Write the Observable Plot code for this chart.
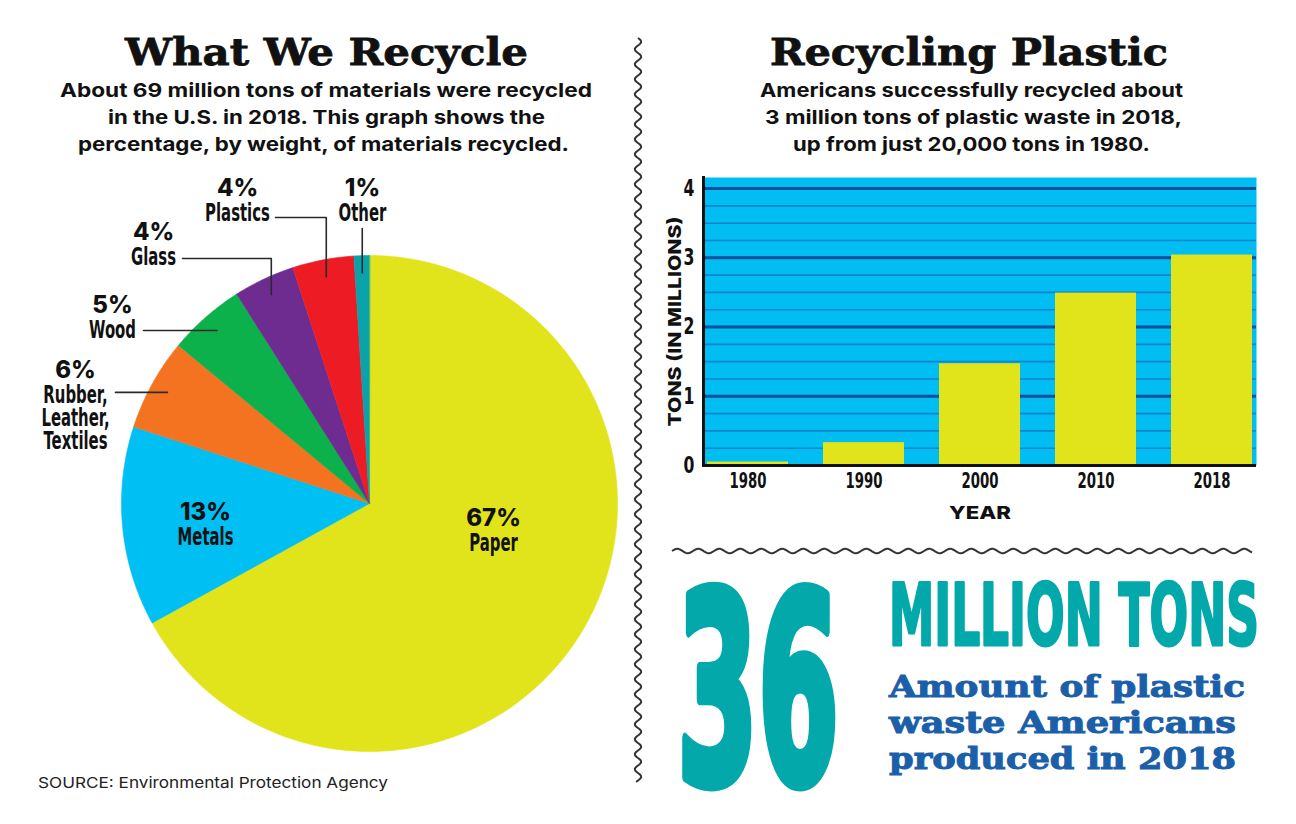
<!DOCTYPE html>
<html>
<head>
<meta charset="utf-8">
<script src="https://cdn.jsdelivr.net/npm/d3@7"></script>
<script src="https://cdn.jsdelivr.net/npm/@observablehq/plot@0.6"></script>
<style>
  html, body { margin: 0; padding: 0; background: #fff; }
  #page { position: relative; width: 1296px; height: 824px; overflow: hidden; background: #fff; }
  #page > * { position: absolute; }
  .serif { font-family: "DejaVu Serif", "Liberation Serif", serif; font-weight: bold; }
  .sans { font-family: "Inter", "Lato", "Open Sans", sans-serif; }
  .cond { font-family: "DejaVu Sans", sans-serif; font-weight: bold; }
</style>
</head>
<body>
<div id="page">
  <svg id="decor" width="1296" height="824" style="left:0;top:0"></svg>
  <div id="pie" style="left:0;top:160px"></div>
  <div id="bars" style="left:650px;top:170px"></div>
</div>
<script>
// ---------------- DATA ----------------
const pieCategories = ["Paper", "Metals", "Rubber, Leather, Textiles", "Wood", "Glass", "Plastics", "Other"];
const piePercents   = [67, 13, 6, 5, 4, 4, 1];
const pieNameLines  = [["Paper"], ["Metals"], ["Rubber,", "Leather,", "Textiles"], ["Wood"], ["Glass"], ["Plastics"], ["Other"]];
const pieColors     = ["#e2e41b", "#00bff3", "#f37321", "#0db14b", "#6e2c91", "#ed1c24", "#0aa3a9"];

const barYears = ["1980", "1990", "2000", "2010", "2018"];
const barTons  = [0.05, 0.33, 1.47, 2.49, 3.04];   // millions of tons
const yTickValues = [0, 1, 2, 3, 4];

// ---------------- helpers ----------------
const NS = "http://www.w3.org/2000/svg";
const decor = document.getElementById("decor");
function addText(str, opts) {
  const t = document.createElementNS(NS, "text");
  t.textContent = str;
  for (const [k, v] of Object.entries(opts)) {
    if (k === "cls") t.setAttribute("class", v);
    else t.setAttribute(k, v);
  }
  decor.appendChild(t);
  return t;
}
function addPath(d, opts) {
  const p = document.createElementNS(NS, "path");
  p.setAttribute("d", d);
  for (const [k, v] of Object.entries(opts)) p.setAttribute(k, v);
  decor.appendChild(p);
}
// horizontally squeeze a text to an exact width via a transform
function squeezeTo(t, x, y, width) {
  t.setAttribute("x", 0); t.setAttribute("y", 0);
  const natural = t.getComputedTextLength();
  t.setAttribute("transform", `translate(${x},${y}) scale(${(width / natural).toFixed(4)},1)`);
}
function condense(nodes, factor, fixed) {
  nodes.forEach(t => {
    const w = fixed != null ? fixed : t.getComputedTextLength() * factor;
    t.setAttribute("textLength", w.toFixed(1));
    t.setAttribute("lengthAdjust", "spacingAndGlyphs");
  });
}

// ---------------- TEXT / DECOR ----------------
addText("What We Recycle", {cls: "serif", x: 125, y: 65, "font-size": 38, textLength: 403, lengthAdjust: "spacingAndGlyphs", fill: "#111", stroke: "#111", "stroke-width": 0.8});
addText("Recycling Plastic", {cls: "serif", x: 770, y: 65, "font-size": 38, textLength: 398, lengthAdjust: "spacingAndGlyphs", fill: "#111", stroke: "#111", "stroke-width": 0.8});
const leftSub = [["About 69 million tons of materials were recycled", 60, 532], ["in the U.S. in 2018. This graph shows the", 108, 437], ["percentage, by weight, of materials recycled.", 78, 491]];
const rightSub = [["Americans successfully recycled about", 760, 423], ["3 million tons of plastic waste in 2018,", 765, 417], ["up from just 20,000 tons in 1980.", 793, 357]];
[leftSub, rightSub].forEach(set => set.forEach(([s, x, w], i) => {
  addText(s, {cls: "sans", x, y: 97 + i * 27, "font-size": 19, "font-weight": 700, textLength: w, lengthAdjust: "spacingAndGlyphs", fill: "#111"});
}));
addText("SOURCE: Environmental Protection Agency", {cls: "sans", x: 38, y: 788, "font-size": 15, textLength: 350, lengthAdjust: "spacingAndGlyphs", fill: "#222"});
const big36 = addText("36", {cls: "cond", "font-size": 262, fill: "#03a9aa", stroke: "#03a9aa", "stroke-width": 9, "stroke-linejoin": "round", "vector-effect": "non-scaling-stroke"});
squeezeTo(big36, 677, 782, 162);
const million = addText("MILLION TONS", {cls: "cond", "font-size": 85, fill: "#03a9aa", stroke: "#03a9aa", "stroke-width": 2.5, "stroke-linejoin": "round", "vector-effect": "non-scaling-stroke"});
squeezeTo(million, 889, 645, 370);
[["Amount of plastic", 356], ["waste Americans", 347], ["produced in 2018", 347]].forEach(([s, w], i) => {
  addText(s, {cls: "serif", x: 889, y: 697 + i * 36, "font-size": 30, textLength: w, lengthAdjust: "spacingAndGlyphs", fill: "#1b5fa9", stroke: "#1b5fa9", "stroke-width": 1});
});
(function () {
  let d = "";
  for (let y = 38; y <= 782; y += 1) d += (y === 38 ? "M" : "L") + (638 + 3.2 * Math.sin((y - 38) / 15 * 2 * Math.PI)).toFixed(2) + "," + y;
  addPath(d, {fill: "none", stroke: "#333", "stroke-width": 2});
  let h = "";
  for (let x = 672; x <= 1252; x += 1) h += (x === 672 ? "M" : "L") + x + "," + (551 - 2.2 * Math.sin((x - 672) / 21 * 2 * Math.PI)).toFixed(2);
  addPath(h, {fill: "none", stroke: "#333", "stroke-width": 2});
})();

// ---------------- PIE ----------------
const R = 248, CX = 369, CY = 503, PIE_TOP = 160, PIE_W = 636, PIE_H = 620;
const toX = px => (px - CX) / R;
const toY = py => (CY - py) / R;
const pieData = pieCategories.map((c, i) => ({cat: c, pct: piePercents[i], lines: pieNameLines[i]}));
const arcs = d3.pie().sort(null).value(d => d.pct)(pieData);
const polyPts = [];
arcs.forEach(a => {
  const cat = a.data.cat;
  polyPts.push({cat, x: 0, y: 0});
  const n = Math.max(4, Math.ceil((a.endAngle - a.startAngle) / (Math.PI / 360)));
  for (let i = 0; i <= n; i++) {
    const t = a.startAngle + (a.endAngle - a.startAngle) * i / n;
    polyPts.push({cat, x: Math.sin(t), y: Math.cos(t)});
  }
});
const labelLayout = {
  "Paper": {px: 493, py: 518},
  "Metals": {px: 205, py: 512},
  "Rubber, Leather, Textiles": {px: 75, py: 370, kind: "h", lineX: 115},
  "Wood": {px: 112, py: 305, kind: "h", lineX: 143},
  "Glass": {px: 153, py: 232, kind: "elbow", lineX: 182, lineY: 258},
  "Plastics": {px: 237, py: 188, kind: "elbow", lineX: 275, lineY: 217},
  "Other": {px: 362, py: 188, kind: "v", lineY: 228}
};
const pctLabels = [], nameLabels = [], leaders = [];
arcs.forEach(a => {
  const cat = a.data.cat, L = labelLayout[cat];
  pctLabels.push({x: toX(L.px), y: toY(L.py), text: a.data.pct + "%"});
  a.data.lines.forEach((ln, j) => nameLabels.push({x: toX(L.px), y: toY(L.py + 25 + j * 23), text: ln}));
  const mid = (a.startAngle + a.endAngle) / 2;
  const ax = 0.93 * Math.sin(mid), ay = 0.93 * Math.cos(mid);
  if (L.kind === "h") {
    leaders.push({cat, x: toX(L.lineX), y: ay}, {cat, x: ax, y: ay});
  } else if (L.kind === "elbow") {
    leaders.push({cat, x: toX(L.lineX), y: toY(L.lineY)}, {cat, x: ax, y: toY(L.lineY)}, {cat, x: ax, y: ay});
  } else if (L.kind === "v") {
    leaders.push({cat, x: ax, y: toY(L.lineY)}, {cat, x: ax, y: ay});
  }
});
const pie = Plot.plot({
  width: PIE_W, height: PIE_H,
  margin: 0,
  style: {background: "transparent", overflow: "visible"},
  x: {domain: [toX(0), toX(PIE_W)], axis: null},
  y: {domain: [toY(PIE_TOP + PIE_H), toY(PIE_TOP)], axis: null},
  color: {domain: pieCategories, range: pieColors},
  marks: [
    Plot.line(polyPts, {x: "x", y: "y", z: "cat", fill: "cat", stroke: "cat", strokeWidth: 0.6, curve: "linear-closed"}),
    Plot.line(leaders, {x: "x", y: "y", z: "cat", stroke: "#2a2a2a", strokeWidth: 1.6}),
    Plot.text(pctLabels, {x: "x", y: "y", text: "text", fontSize: 24, fontWeight: 800, fontFamily: "Inter, Lato, sans-serif", fill: "#111"}),
    Plot.text(nameLabels, {x: "x", y: "y", text: "text", fontSize: 24, fontWeight: "bold", fontFamily: "'DejaVu Sans', sans-serif", fill: "#111"})
  ]
});
document.getElementById("pie").appendChild(pie);
{
  const groups = pie.querySelectorAll('g[aria-label="text"]');
  condense([...groups[1].querySelectorAll("text")], 0.62);
}

// ---------------- BARS ----------------
const barData = barYears.map((y, i) => ({year: y, tons: barTons[i]}));
const minorTicks = d3.range(0.25, 4.16, 0.25).filter(v => v % 1 !== 0);
const majorTicks = yTickValues.filter(v => v > 0);
const bars = Plot.plot({
  width: 620, height: 370,
  marginLeft: 53, marginRight: 14, marginTop: 7, marginBottom: 75,
  style: {background: "transparent", overflow: "visible", fontFamily: "'DejaVu Sans', sans-serif", fontWeight: "bold", fontSize: "22px", color: "#111"},
  x: {domain: barYears, paddingInner: 0.3, paddingOuter: 0.03},
  y: {domain: [0, 4.16]},
  marks: [
    Plot.frame({fill: "#00bdf2", stroke: null}),
    Plot.ruleY(minorTicks, {stroke: "#1583c9", strokeWidth: 1.6}),
    Plot.ruleY(majorTicks, {stroke: "#0b4f9a", strokeWidth: 3}),
    Plot.barY(barData, {x: "year", y: "tons", fill: "#e2e41b"}),
    Plot.ruleY([0], {stroke: "#111", strokeWidth: 3}),
    Plot.frame({anchor: "left", stroke: "#111", strokeWidth: 3}),
    Plot.axisX({tickSize: 0, tickPadding: 7, fontSize: 22, label: null}),
    Plot.axisY({ticks: yTickValues, tickSize: 0, tickPadding: 9, fontSize: 23, tickFormat: d => d, label: null}),
    Plot.text(["YEAR"], {frameAnchor: "bottom", dy: 53, fontSize: 18, fontWeight: 800, fontFamily: "Inter, Lato, sans-serif", fill: "#111"}),
    Plot.text(["TONS (IN MILLIONS)"], {frameAnchor: "left", textAnchor: "middle", dx: -28, rotate: -90, fontSize: 18, fontWeight: 800, fontFamily: "Inter, Lato, sans-serif", fill: "#111"})
  ]
});
document.getElementById("bars").appendChild(bars);
{
  condense([...bars.querySelectorAll('g[aria-label="x-axis tick label"] text')], null, 37);
  condense([...bars.querySelectorAll('g[aria-label="y-axis tick label"] text')], 0.68);
  const groups = bars.querySelectorAll('g[aria-label="text"]');
  condense([...groups[0].querySelectorAll("text")], null, 62);
  condense([...groups[1].querySelectorAll("text")], null, 210);
}
</script>
</body>
</html>
